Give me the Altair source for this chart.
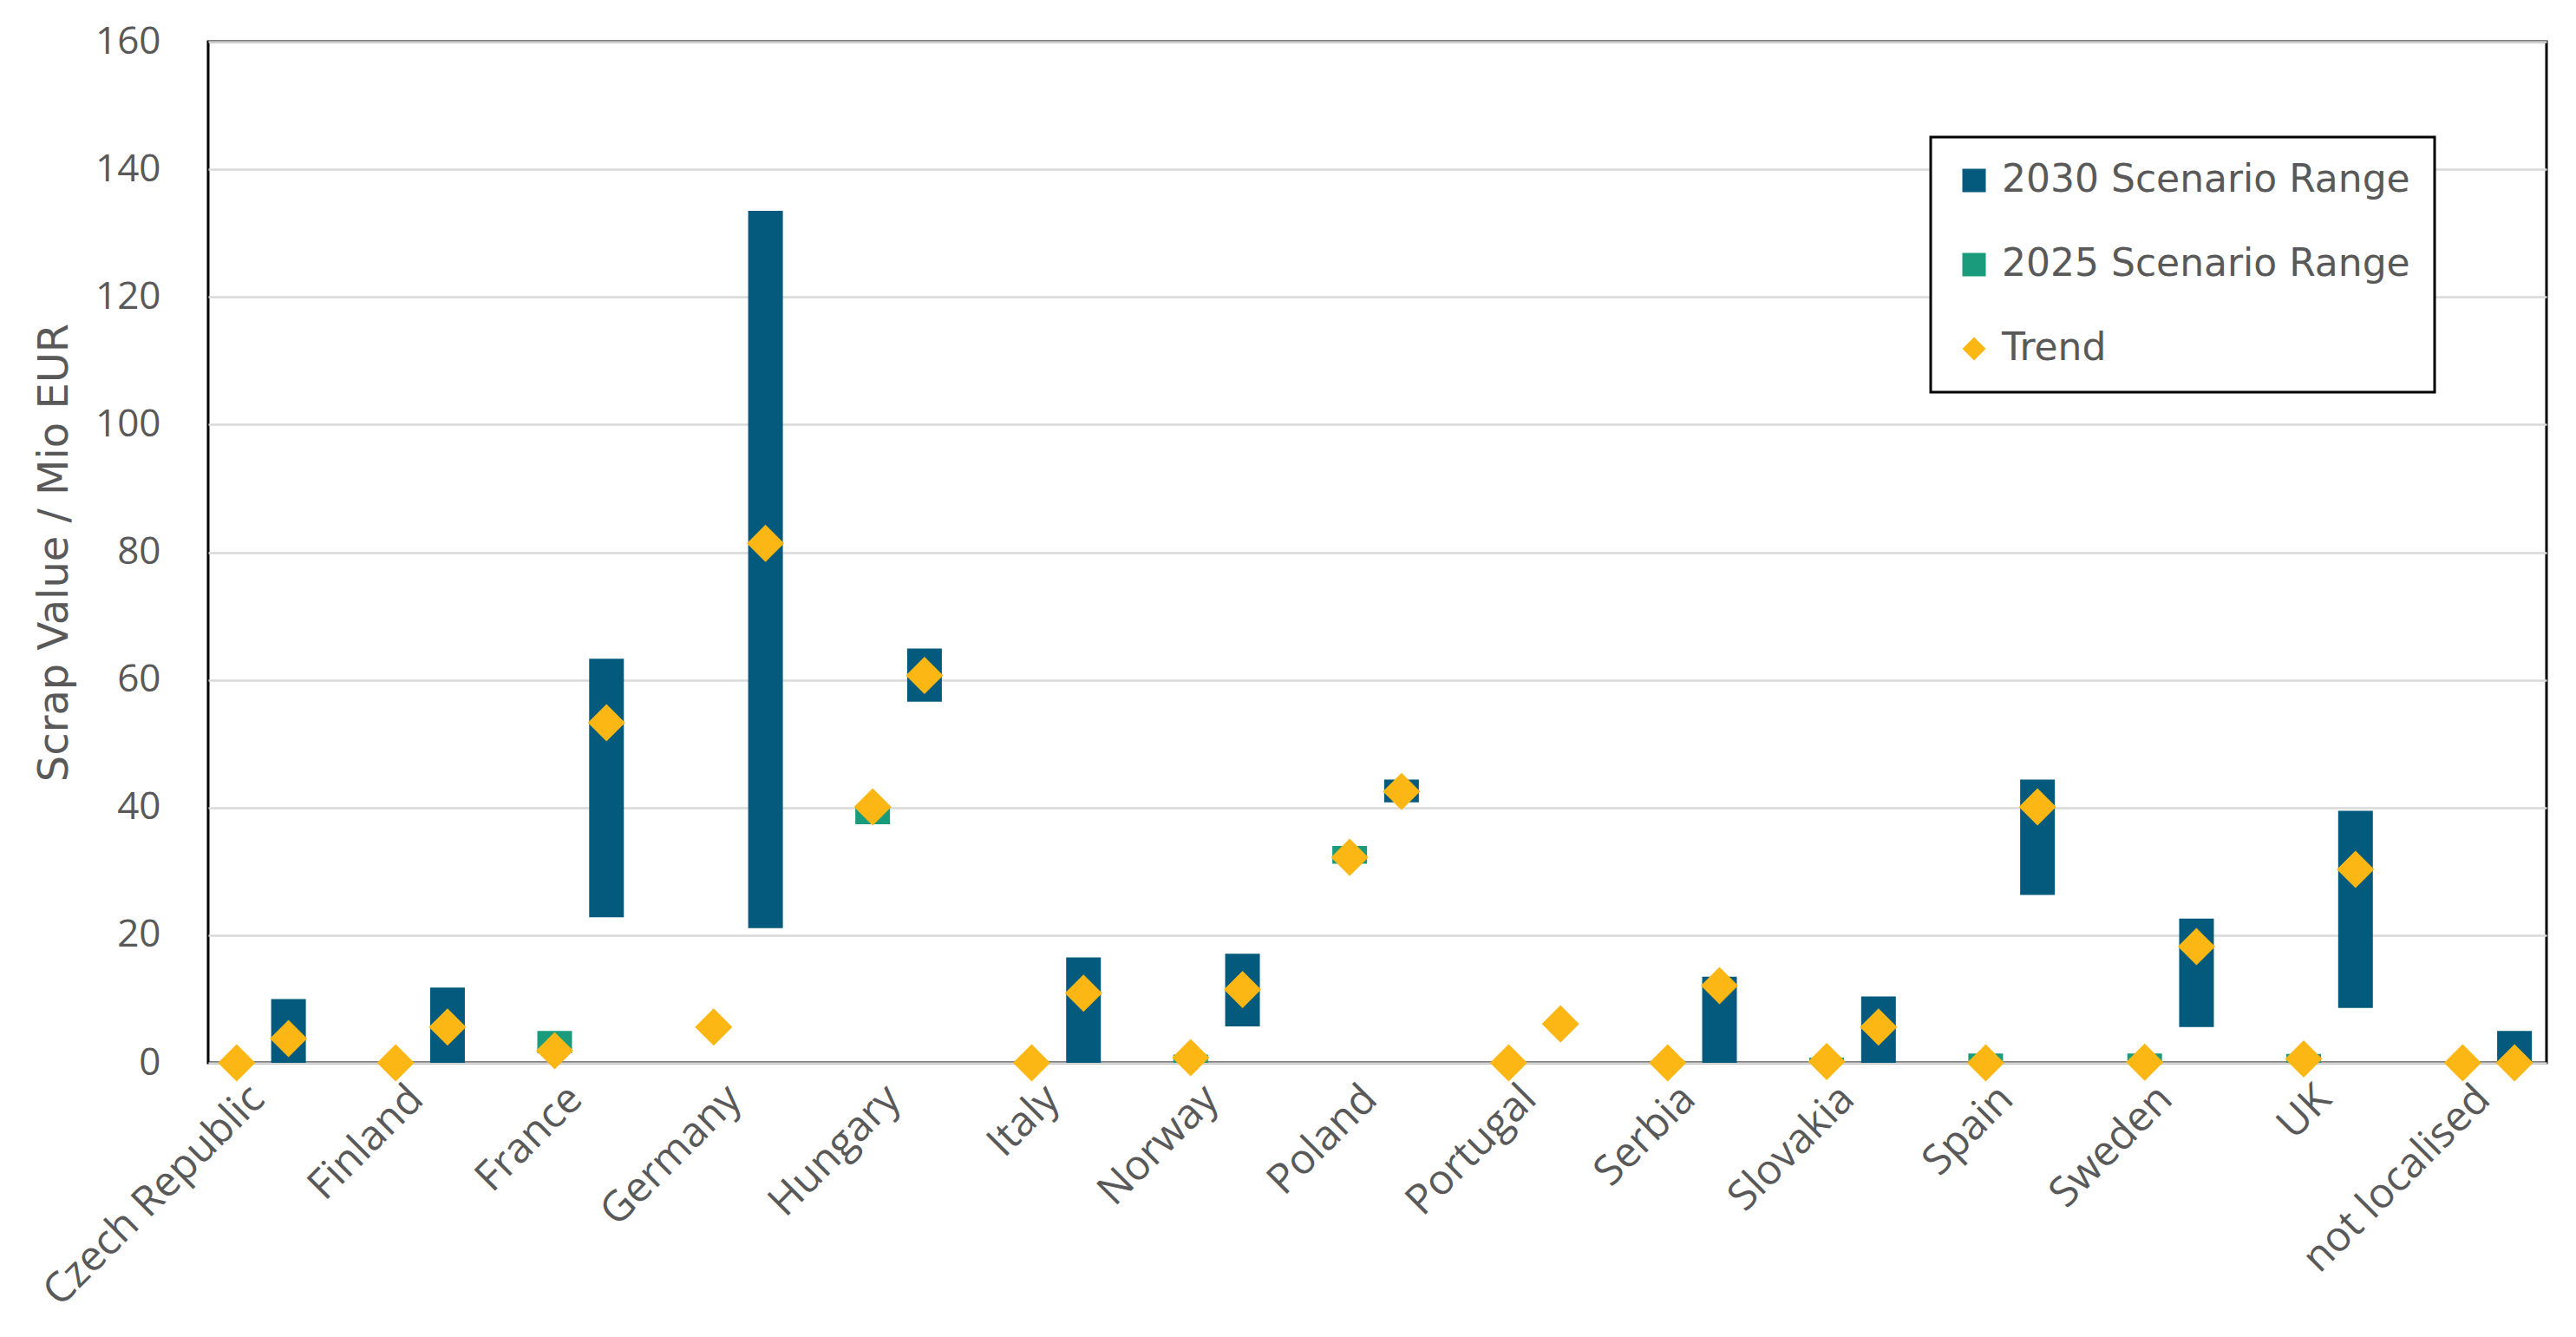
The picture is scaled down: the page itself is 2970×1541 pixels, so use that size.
import json
import altair as alt
import pandas as pd

countries = ["Czech Republic", "Finland", "France", "Germany", "Hungary", "Italy",
             "Norway", "Poland", "Portugal", "Serbia", "Slovakia", "Spain",
             "Sweden", "UK", "not localised"]

range2025_low = [None, None, 1.5, None, 37.4, 0.0, 0.0, 31.2, None, 0.0, 0.0, 0.0, 0.0, 0.0, None]
range2025_high = [None, None, 5.0, None, 40.0, 0.3, 1.3, 34.0, None, 0.3, 0.8, 1.45, 1.45, 1.4, None]
trend2025 = [0.0, 0.0, 1.9, 5.6, 40.1, 0.0, 0.8, 32.2, 0.0, 0.0, 0.2, 0.0, 0.1, 0.6, 0.0]

range2030_low = [0.0, 0.0, 22.8, 21.1, 56.6, 0.0, 5.7, 40.8, None, 0.0, 0.0, 26.3, 5.6, 8.6, 0.0]
range2030_high = [10.0, 11.8, 63.3, 133.5, 64.9, 16.5, 17.1, 44.4, None, 13.5, 10.4, 44.4, 22.6, 39.5, 5.0]
trend2030 = [3.8, 5.6, 53.3, 81.4, 60.7, 10.9, 11.5, 42.5, 6.1, 12.1, 5.6, 40.1, 18.2, 30.3, 0.0]

series_names = ["2030 Scenario Range", "2025 Scenario Range", "Trend"]
series_colors = ["#035A7C", "#1A9B7B", "#FDB714"]
y_ticks = [0, 20, 40, 60, 80, 100, 120, 140, 160]

bar_rows = []
for i, c in enumerate(countries):
    for name, lows, highs, slot in [
        ("2030 Scenario Range", range2030_low, range2030_high, 1),
        ("2025 Scenario Range", range2025_low, range2025_high, -1),
    ]:
        if lows[i] is not None:
            bar_rows.append({"idx": i, "country": c, "slot": slot, "series": name,
                             "low": lows[i], "high": highs[i]})
bars_df = pd.DataFrame(bar_rows)

trend_rows = []
for i, c in enumerate(countries):
    trend_rows.append({"idx": i, "country": c, "slot": -1, "series": "Trend", "value": trend2025[i]})
    trend_rows.append({"idx": i, "country": c, "slot": 1, "series": "Trend", "value": trend2030[i]})
trend_df = pd.DataFrame(trend_rows)

label_expr = json.dumps(countries) + "[datum.value]"

x_enc = alt.X(
    "pos:Q",
    scale=alt.Scale(domain=[-0.315, 14.337], nice=False, zero=False),
    axis=alt.Axis(
        values=list(range(len(countries))),
        labelExpr=label_expr,
        labelAngle=-45,
        labelAlign="right",
        labelBaseline="middle",
        labelPadding=34,
        labelOffset=-6,
        labelFont="Open Sans",
        labelFontSize=48,
        labelColor="#595959",
        labelLimit=900,
        labelOverlap=False,
        labelBound=False,
        labelFlush=False,
        ticks=False,
        domain=False,
        grid=False,
        title=None,
    ),
)

y_scale = alt.Scale(domain=[0, 160], nice=False, zero=True)
y_axis = alt.Axis(
    values=y_ticks,
    title="Scrap Value / Mio EUR",
    titleFont="DejaVu Sans",
    titleFontSize=48,
    titleFontWeight="normal",
    titleColor="#595959",
    titlePadding=22,
    labelFont="Open Sans",
    labelFontSize=44,
    labelColor="#595959",
    labelPadding=55,
    ticks=False,
    domain=False,
    grid=True,
    gridColor="#d9d9d9",
    gridWidth=2.5,
)

legend = alt.Legend(
    title=None,
    orient="none",
    legendX=1986,
    legendY=110,
    strokeColor="black",
    fillColor="white",
    padding=28,
    rowPadding=53,
    symbolSize=729,
    symbolStrokeWidth=0,
    labelOffset=10,
    labelFont="DejaVu Sans",
    labelFontSize=44,
    labelColor="#595959",
    labelLimit=800,
)

color_enc = alt.Color("series:N", scale=alt.Scale(domain=series_names, range=series_colors), legend=legend)
shape_enc = alt.Shape("series:N", scale=alt.Scale(domain=series_names, range=["square", "square", "diamond"]), legend=legend)

bars = (
    alt.Chart(bars_df)
    .transform_calculate(pos="datum.idx + datum.slot * 0.163")
    .mark_bar(size=40)
    .encode(
        x=x_enc,
        y=alt.Y("low:Q", scale=y_scale, axis=y_axis),
        y2="high:Q",
        color=color_enc,
    )
)

points = (
    alt.Chart(trend_df)
    .transform_calculate(pos="datum.idx + datum.slot * 0.163")
    .mark_point(filled=True, opacity=1, size=1850, strokeWidth=0)
    .encode(
        x=x_enc,
        y=alt.Y("value:Q", scale=y_scale, axis=y_axis),
        color=color_enc,
        shape=shape_enc,
    )
)

chart = (
    alt.layer(bars, points)
    .properties(
        width=2696,
        height=1177,
        autosize=alt.AutoSizeParams(type="none"),
        padding={"left": 232, "top": 40, "right": 20, "bottom": 300},
        background="white",
    )
    .configure_view(stroke="black", strokeWidth=3)
    .configure_legend(strokeWidth=3)
)

chart.save("out.html", embed_options={"renderer": "svg", "actions": False})
